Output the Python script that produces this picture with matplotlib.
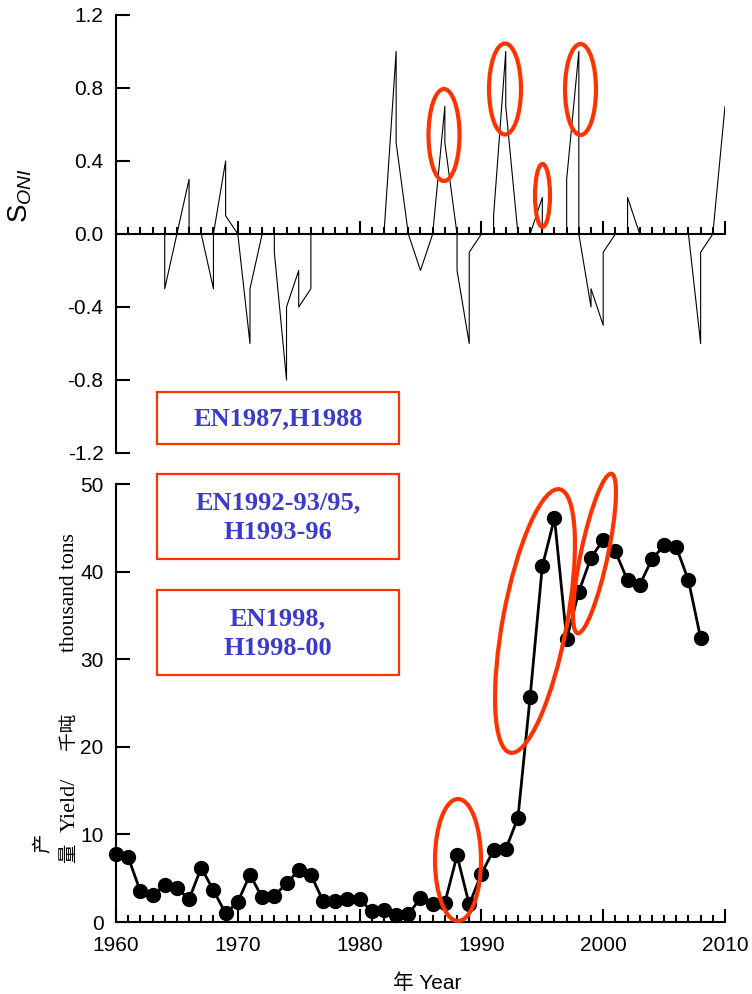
import numpy as np
import matplotlib
matplotlib.use('Agg')
import matplotlib.pyplot as plt
from matplotlib.patches import Ellipse, Rectangle
from matplotlib.ticker import MultipleLocator, FormatStrFormatter

plt.rcParams['axes.unicode_minus'] = False
plt.rcParams['font.family'] = ['Liberation Sans', 'Noto Sans CJK SC']
plt.rcParams['mathtext.fontset'] = 'custom'
plt.rcParams['mathtext.rm'] = 'Liberation Sans'
plt.rcParams['mathtext.it'] = 'Liberation Sans:italic'

# S_ONI series; a year that appears twice gives the vertical jump
oni_year = [1960, 1964, 1964, 1965, 1966, 1966, 1967, 1968, 1968, 1969,
            1969, 1970, 1971, 1971, 1972, 1973, 1973, 1974, 1974, 1975,
            1975, 1976, 1976, 1982, 1983, 1983, 1984, 1985, 1986, 1987,
            1987, 1988, 1988, 1989, 1989, 1990, 1991, 1991, 1992, 1992,
            1993, 1994, 1995, 1995, 1997, 1997, 1998, 1998, 1999, 1999,
            2000, 2000, 2001, 2002, 2002, 2003, 2007, 2008, 2008, 2009,
            2010]
oni_val = [0.0, 0.0, -0.3, 0.0, 0.3, 0.0, 0.0, -0.3, 0.0, 0.4,
           0.1, 0.0, -0.6, -0.3, 0.0, 0.0, -0.1, -0.8, -0.4, -0.2,
           -0.4, -0.3, 0.0, 0.0, 1.0, 0.5, 0.0, -0.2, 0.0, 0.7,
           0.5, 0.0, -0.2, -0.6, -0.1, 0.0, 0.0, 0.1, 1.0, 0.7,
           0.0, 0.0, 0.2, 0.0, 0.0, 0.3, 1.0, 0.0, -0.4, -0.3,
           -0.5, -0.1, 0.0, 0.0, 0.2, 0.0, 0.0, -0.6, -0.1, 0.0,
           0.7]

# yield, thousand tons
yield_year = list(range(1960, 2009))
yield_val = [7.8, 7.4, 3.5, 3.1, 4.2, 3.9, 2.6, 6.2, 3.6, 1.0,
             2.3, 5.4, 2.8, 3.0, 4.4, 5.9, 5.4, 2.4, 2.4, 2.6,
             2.6, 1.2, 1.4, 0.8, 0.9, 2.7, 2.0, 2.2, 7.6, 2.0,
             5.5, 8.2, 8.3, 11.9, 25.7, 40.6, 46.1, 32.3, 37.7, 41.6,
             43.6, 42.3, 39.0, 38.5, 41.4, 43.0, 42.8, 39.0, 32.4]

boxes = [['EN1987,H1988'], ['EN1992-93/95,', 'H1993-96'], ['EN1998,', 'H1998-00']]

W, H = 752, 994
fig = plt.figure(figsize=(W / 100, H / 100), dpi=100)

red = '#ff3300'
blue = '#3a3acc'

# top panel
ax1 = fig.add_axes([116 / W, 1 - 453 / H, 609 / W, 438 / H])
ax1.plot(oni_year, oni_val, color='black', lw=0.8)
ax1.set_xlim(1960, 2010)
ax1.set_ylim(-1.2, 1.2)
ax1.spines['top'].set_visible(False)
ax1.spines['right'].set_visible(False)
ax1.spines['bottom'].set_position(('data', 0))
for s in ['left', 'bottom']:
    ax1.spines[s].set_linewidth(1.5)
ax1.yaxis.set_major_locator(MultipleLocator(0.4))
ax1.yaxis.set_major_formatter(FormatStrFormatter('%.1f'))
ax1.xaxis.set_major_locator(MultipleLocator(10))
ax1.xaxis.set_minor_locator(MultipleLocator(1))
ax1.tick_params(axis='y', direction='in', length=10, width=1.5, labelsize=15, pad=9)
ax1.tick_params(axis='x', which='major', direction='in', length=9.5, width=1.5, labelbottom=False)
ax1.tick_params(axis='x', which='minor', direction='in', length=5, width=1.5)

# bottom panel
ax2 = fig.add_axes([116 / W, 1 - 922 / H, 609 / W, 438 / H])
ax2.plot(yield_year, yield_val, color='black', lw=2, marker='o', ms=10, clip_on=False)
ax2.set_xlim(1960, 2010)
ax2.set_ylim(0, 50)
ax2.spines['top'].set_visible(False)
ax2.spines['right'].set_visible(False)
for s in ['left', 'bottom']:
    ax2.spines[s].set_linewidth(1.5)
ax2.yaxis.set_major_locator(MultipleLocator(10))
ax2.xaxis.set_major_locator(MultipleLocator(10))
ax2.xaxis.set_minor_locator(MultipleLocator(1))
ax2.tick_params(axis='y', direction='in', length=10, width=1.5, labelsize=15, pad=9)
ax2.tick_params(axis='x', which='major', direction='in', length=9.5, width=1.5, labelsize=15, pad=10)
ax2.tick_params(axis='x', which='minor', direction='in', length=5, width=1.5)

# labels
fig.text(20 / W, 1 - 195 / H, r'$\mathrm{S}_{ONI}$', rotation=90, ha='center', va='center', fontsize=20)
fig.text(427 / W, 1 - 983 / H, '年 Year', ha='center', va='center', fontsize=15)

serif_cjk = ['Liberation Serif', 'Noto Sans CJK SC']
for txt, yc, fs in [('量', 853, 14), ('Yield/', 805, 16), ('千吨', 731, 13.5), ('thousand tons', 593, 15.5)]:
    fig.text(70 / W, 1 - yc / H, txt, rotation=90, ha='center', va='center',
             fontsize=fs, family=serif_cjk)
fig.text(43 / W, 1 - 843 / H, '产', rotation=90, ha='center', va='center',
         fontsize=14, family=['Noto Sans CJK SC'])

# annotation overlay in pixel units
ov = fig.add_axes([0, 0, 1, 1], zorder=10)
ov.set_xlim(0, W)
ov.set_ylim(H, 0)
ov.axis('off')
ov.patch.set_alpha(0)

for (x0, y0, x1, y1), lines in zip([(157, 392, 399, 444), (157, 474, 399, 559), (157, 590, 399, 675)], boxes):
    ov.add_patch(Rectangle((x0, y0), x1 - x0, y1 - y0, fill=False, ec=red, lw=1.6))
    ov.text((x0 + x1) / 2, (y0 + y1) / 2 + 1, '\n'.join(lines), ha='center', va='center',
            fontsize=19, fontweight='bold', color=blue, family='Liberation Serif', linespacing=1.4)

for cx, cy, w, h, a in [(444, 135, 31, 92, 0), (505, 89, 32, 91, 0), (542.5, 195.5, 15, 63, 0),
                        (580.5, 89.5, 31, 91, 0), (458, 860, 46, 122, 0),
                        (535, 621, 64, 268, 10.6), (594.5, 553.5, 27, 163, 12)]:
    ov.add_patch(Ellipse((cx, cy), w, h, angle=a, fill=False, ec=red, lw=3))

fig.savefig('out.png', dpi=100)
